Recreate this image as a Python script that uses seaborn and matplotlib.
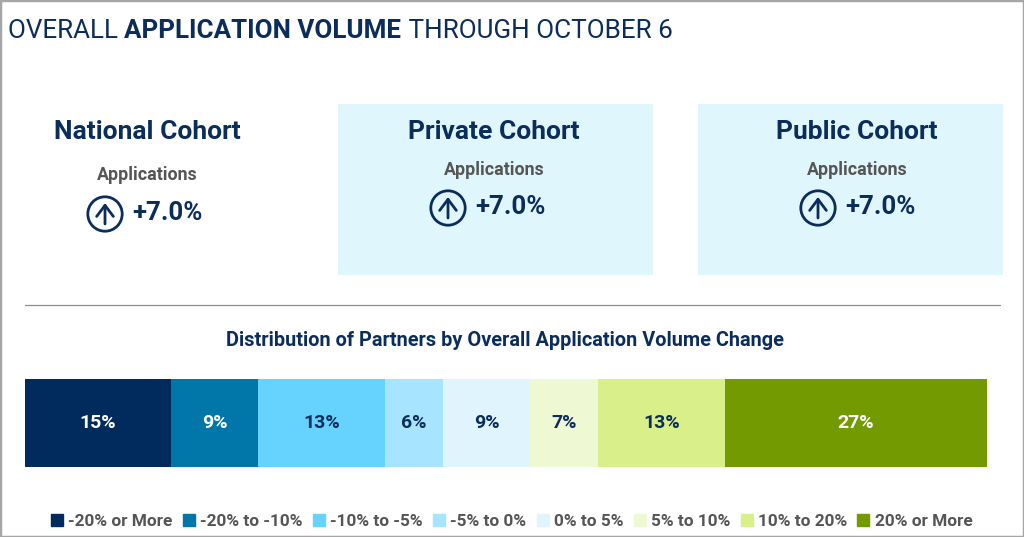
import matplotlib
matplotlib.use("Agg")
import matplotlib.pyplot as plt
from matplotlib.patches import Circle, Rectangle, FancyArrowPatch
from matplotlib.lines import Line2D
import seaborn as sns
import pandas as pd
import numpy as np

# ---- data ----
categories = ['-20% or More', '-20% to -10%', '-10% to -5%', '-5% to 0%',
              '0% to 5%', '5% to 10%', '10% to 20%', '20% or More']
shares = [15, 9, 13, 6, 9, 7, 13, 27]
colors = ['#002b5c', '#0077a8', '#66d3ff', '#a6e4ff',
          '#dff4fd', '#eef9d3', '#d9f08a', '#739a00']
label_colors = ['white', 'white', '#0b2d5c', '#0b2d5c',
                '#0b2d5c', '#0b2d5c', '#0b2d5c', 'white']
cohorts = ['National Cohort', 'Private Cohort', 'Public Cohort']
cohort_metric = ['Applications', 'Applications', 'Applications']
cohort_change = [7.0, 7.0, 7.0]

sns.set_theme(style="white")
plt.rcParams['font.family'] = ['Roboto', 'DejaVu Sans']

W, H = 1024, 537
fig = plt.figure(figsize=(W / 100, H / 100), dpi=100)
fig.patch.set_facecolor('white')

NAVY = '#0b2d5c'
GRAY = '#555555'


def fx(x):
    return x / W


def fy(y):
    return 1 - y / H


# border
fig.add_artist(Rectangle((0, 0), 1, 1, transform=fig.transFigure, fill=False,
                         edgecolor='#a6a6a6', linewidth=2.5))

# ---- title (three pieces, fitted to the reference width) ----
renderer = fig.canvas.get_renderer()
title_parts = [("OVERALL ", 'normal'), ("APPLICATION VOLUME", 'bold'),
               (" THROUGH OCTOBER 6", 'normal')]
base = 20.0
total = 0
tmp = []
for txt, wt in title_parts:
    t = fig.text(0, 0, txt, fontsize=base, fontweight=wt)
    total += t.get_window_extent(renderer=renderer).width
    tmp.append(t)
for t in tmp:
    t.remove()
size = base * 664 / total
x = 8
for txt, wt in title_parts:
    t = fig.text(fx(x), fy(31), txt, fontsize=size, fontweight=wt, color=NAVY,
                 ha='left', va='center')
    x += t.get_window_extent(renderer=renderer).width

# ---- cohort boxes ----
fig.add_artist(Rectangle((fx(338), fy(275)), fx(653) - fx(338), fy(104) - fy(275),
                         transform=fig.transFigure, facecolor='#e0f6fd',
                         edgecolor='none', zorder=0))
fig.add_artist(Rectangle((fx(698), fy(275)), fx(1003) - fx(698), fy(104) - fy(275),
                         transform=fig.transFigure, facecolor='#e0f6fd',
                         edgecolor='none', zorder=0))

cohort_cx = [147, 494, 857]
cohort_title_y = [132, 132, 132]
metric_y = [175, 170, 170]
icon_x = [105, 448, 818]
icon_y = [214, 208, 208]

for i, name in enumerate(cohorts):
    fig.text(fx(cohort_cx[i]), fy(cohort_title_y[i]), name, fontsize=19,
             fontweight='bold', color=NAVY, ha='center', va='center')
    fig.text(fx(cohort_cx[i]), fy(metric_y[i]), cohort_metric[i], fontsize=12.8,
             fontweight='bold', color=GRAY, ha='center', va='center')
    cx, cy = icon_x[i], icon_y[i]
    circ = Circle((cx / 100, (H - cy) / 100), 0.172, transform=fig.dpi_scale_trans,
                  fill=False, edgecolor=NAVY, linewidth=2)
    fig.add_artist(circ)
    arr = FancyArrowPatch((cx / 100, (H - cy - 10) / 100), (cx / 100, (H - cy + 11) / 100),
                          transform=fig.dpi_scale_trans, arrowstyle='->,head_length=0.4,head_width=0.3',
                          mutation_scale=20, color=NAVY, linewidth=2, shrinkA=0, shrinkB=0)
    fig.add_artist(arr)
    fig.text(fx(cx + 27), fy(cy - 1), f"+{cohort_change[i]:.1f}%", fontsize=18.5,
             fontweight='bold', color=NAVY, ha='left', va='center')

# separator line
fig.add_artist(Line2D([fx(25), fx(1000)], [fy(305), fy(305)], transform=fig.transFigure,
                      color='#8c8c8c', linewidth=0.9))

# subtitle
fig.text(fx(505), fy(340), "Distribution of Partners by Overall Application Volume Change",
         fontsize=14.3, fontweight='bold', color=NAVY, ha='center', va='center')

# ---- stacked bar ----
ax = fig.add_axes([fx(25), fy(467), fx(987) - fx(25), fy(379) - fy(467)])
cum = np.cumsum(shares)
df = pd.DataFrame({'category': categories, 'share': shares, 'cum': cum, 'row': 'All'})
for i in range(len(categories) - 1, -1, -1):
    sns.barplot(data=df.iloc[[i]], x='cum', y='row', orient='h', color=colors[i],
                saturation=1, width=1, ax=ax, linewidth=0)
for i in range(len(categories)):
    ax.text(cum[i] - shares[i] / 2, 0, f"{shares[i]}%", ha='center', va='center',
            fontsize=14, fontweight='bold', color=label_colors[i])
ax.set_xlim(0, cum[-1])
ax.set_ylim(0.5, -0.5)
ax.axis('off')

# ---- legend ----
handles = [Line2D([0], [0], marker='s', linestyle='none', markersize=8,
                  markerfacecolor=c, markeredgecolor=c) for c in colors]
leg = fig.legend(handles, categories, loc='center', bbox_to_anchor=(fx(512), fy(521)),
                 ncol=len(categories), frameon=False, handlelength=0.6, handletextpad=0.35,
                 columnspacing=0.65, prop={'weight': 'bold', 'size': 12.4})
for t in leg.get_texts():
    t.set_color(GRAY)

fig.savefig("out.png", dpi=100, facecolor='white')
